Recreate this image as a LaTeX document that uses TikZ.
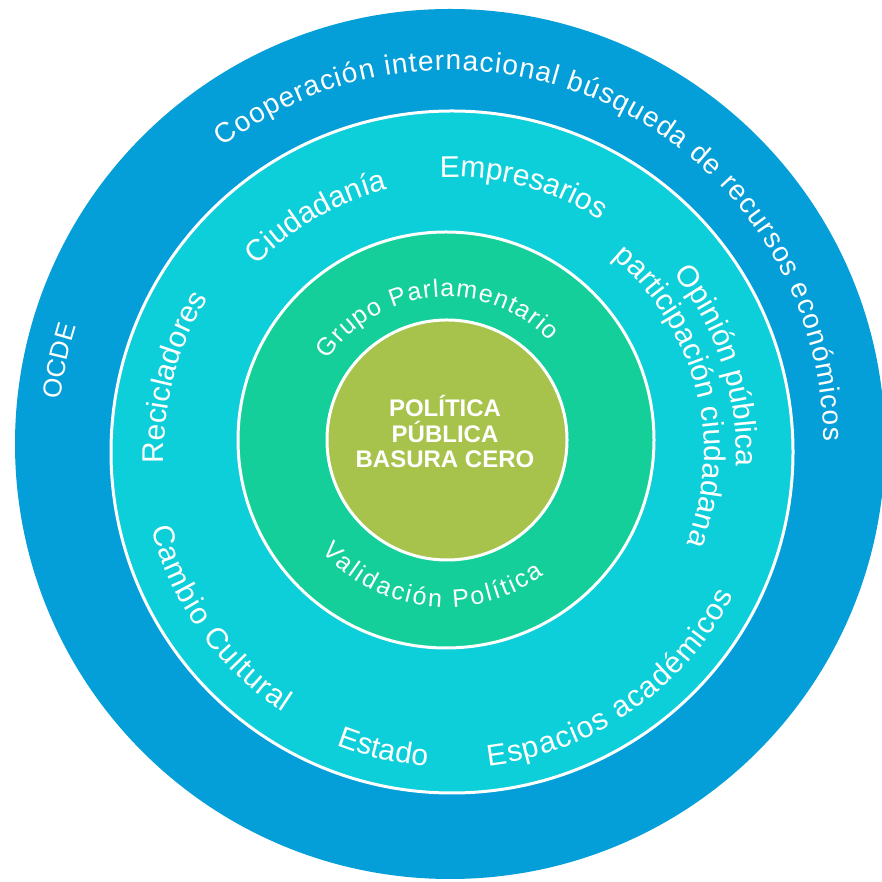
\documentclass[tikz,border=0pt]{standalone}
\usepackage{fontspec}
\setmainfont{Liberation Sans}
\usetikzlibrary{decorations.text,calc}
\definecolor{ringblue}{HTML}{049ED8}
\definecolor{ringcyan}{HTML}{0CCFDA}
\definecolor{ringgreen}{HTML}{14CF9A}
\definecolor{coreolive}{HTML}{A7C34B}
\newcommand\ringtext[6]{\path[decorate,decoration={text along path,text align=center,text={|#5|#6}}] ($(#1)+(#2:#4)$) arc[start angle=#2,end angle=#3,radius=#4];}
\newcommand\fOuter{\fontsize{28}{32}\selectfont\color{white}\kern1.1pt}
\newcommand\fOCDE{\fontsize{26}{30}\selectfont\color{white}}
\newcommand\fCyan{\fontsize{30}{36}\selectfont\color{white}}
\newcommand\fCyanW{\fontsize{30}{36}\selectfont\color{white}\kern1.2pt}
\newcommand\fGreen{\fontsize{25}{30}\selectfont\color{white}\kern1.3pt}
\newcommand\fGreenW{\fontsize{25}{30}\selectfont\color{white}\kern2.3pt}
\tikzset{
  ctext/.style={font=\bfseries\fontsize{24}{28}\selectfont, text=white, inner sep=0pt, anchor=base},
  ringedge/.style={draw=white, line width=3pt}
}
\begin{document}
\begin{tikzpicture}[x=1pt,y=1pt]
\useasboundingbox (0,0) rectangle (881,882);
\fill[white] (0,0) rectangle (881,882);
\coordinate (O) at (450,438);
\coordinate (C) at (452,430);
\coordinate (G) at (446,442);
\coordinate (K) at (447,442);
\fill[ringblue] (O) circle[radius=435];
\fill[ringcyan, ringedge] (C) circle[radius=341];
\fill[ringgreen, ringedge] (G) circle[radius=208];
\fill[coreolive, ringedge] (K) circle[radius=120];
% outer ring
\ringtext{O}{144}{-16}{374}{\fOuter}{Cooperación internacional búsqueda de recursos económicos}
\ringtext{O}{188}{148}{392}{\fOCDE}{OCDE}
% cyan ring
\ringtext{C}{160}{80}{270}{\fCyan}{Ciudadanía}
\ringtext{C}{115}{35}{275}{\fCyan}{Empresarios}
\ringtext{C}{68}{-32}{284}{\fCyan}{Opinión pública}
\ringtext{C}{64.5}{-35.5}{252}{\fCyan}{participación ciudadana}
\ringtext{C}{205}{125}{288}{\fCyan}{Recicladores}
\ringtext{C}{175.5}{255.5}{310}{\fCyanW}{Cambio Cultural}
\ringtext{C}{227}{287}{315}{\fCyan}{Estado}
\ringtext{C}{264.7}{344.7}{316}{\fCyanW}{Espacios académicos}
% green ring
\ringtext{G}{155}{35}{143}{\fGreen}{Grupo Parlamentario}
\ringtext{G}{203.5}{323.5}{167}{\fGreenW}{Validación Política}
% core
\node[ctext] (t1) at (445,465) {POLÍTICA};
\node[ctext] (t2) at (445,439) {PÚBLICA};
\node[ctext] (t3) at (445,414) {BASURA CERO};
\end{tikzpicture}
\end{document}
